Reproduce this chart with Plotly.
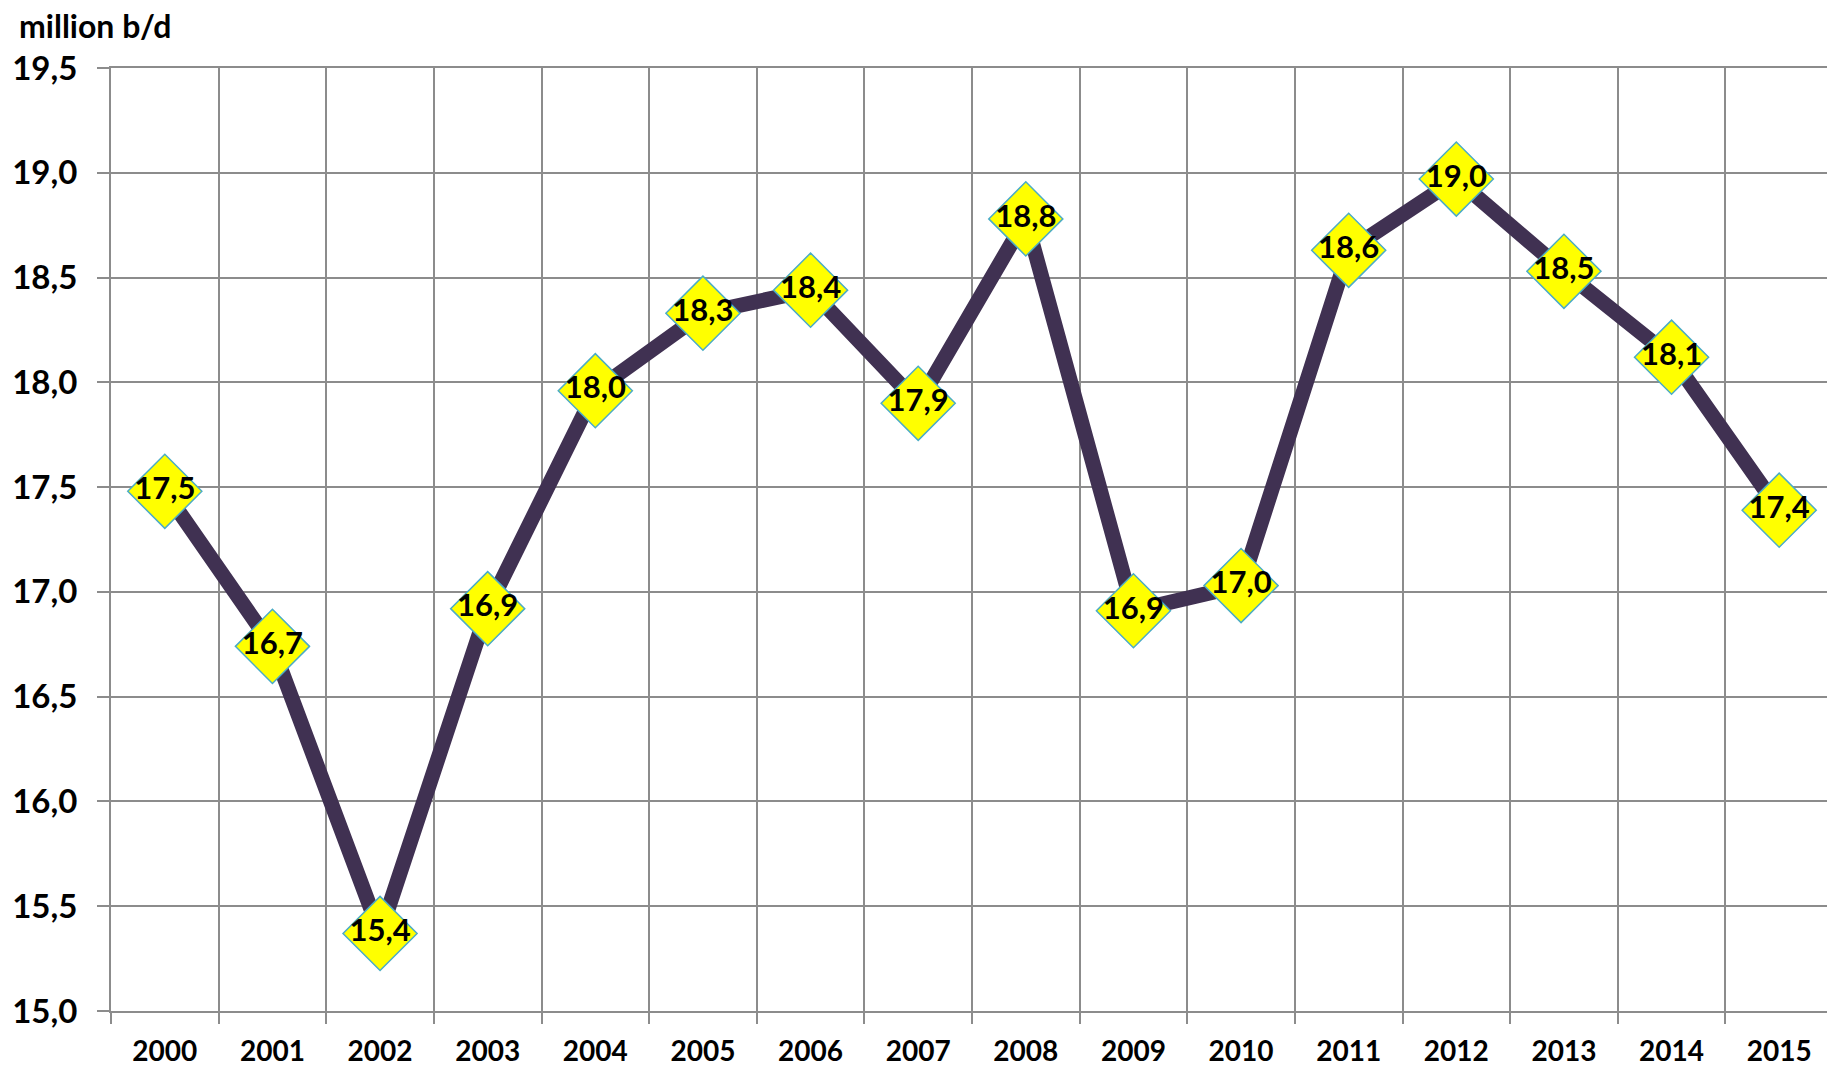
import plotly.graph_objects as go

years = [str(y) for y in range(2000, 2016)]
supply = [17.48, 16.74, 15.37, 16.92, 17.96, 18.33, 18.44, 17.90,
          18.78, 16.91, 17.03, 18.63, 18.97, 18.53, 18.12, 17.39]

FONT = "Lato"
GRID = "#8c8c8c"

fig = go.Figure()
fig.add_trace(go.Scatter(
    x=years, y=supply,
    mode="lines+markers+text",
    line=dict(color="#403152", width=15),
    marker=dict(symbol="diamond", size=57, color="#ffff00",
                line=dict(color="#4bacc6", width=1.5)),
    text=[f"{v:.1f}".replace(".", ",") for v in supply],
    textposition="middle center",
    textfont=dict(family=FONT, size=31, color="black", weight="bold"),
    cliponaxis=False,
    showlegend=False,
))

fig.update_xaxes(
    type="category", range=[-0.5, 15.5], automargin=False,
    tickson="boundaries", ticks="outside", ticklen=11, tickwidth=2, tickcolor=GRID,
    ticklabelstandoff=14,
    showgrid=True, gridcolor=GRID, gridwidth=2,
    showline=True, linecolor=GRID, linewidth=2, mirror=True,
    tickfont=dict(family=FONT, size=28, color="black", weight="bold"),
)
fig.update_yaxes(
    range=[15, 19.5], dtick=0.5, tick0=15, tickformat=".1f", automargin=False,
    ticks="outside", ticklen=12, tickwidth=2, tickcolor=GRID,
    ticklabelstandoff=13,
    showgrid=True, gridcolor=GRID, gridwidth=2,
    showline=True, linecolor=GRID, linewidth=2, mirror=True,
    tickfont=dict(family=FONT, size=33, color="black", weight="bold"),
    zeroline=False,
)

fig.add_annotation(
    text="million b/d", xref="paper", yref="paper", x=-0.054, y=1.062,
    xanchor="left", yanchor="top", yshift=5, borderpad=0, showarrow=False,
    font=dict(family=FONT, size=32, color="black", weight="bold"),
)

# the page body has an 8px margin, so the figure is shrunk by that much
fig.update_layout(
    width=1827, height=1066,
    margin=dict(l=103, r=2, t=60, b=63),
    plot_bgcolor="white", paper_bgcolor="white",
    separators=", ",
)

fig.write_html("out.html")
